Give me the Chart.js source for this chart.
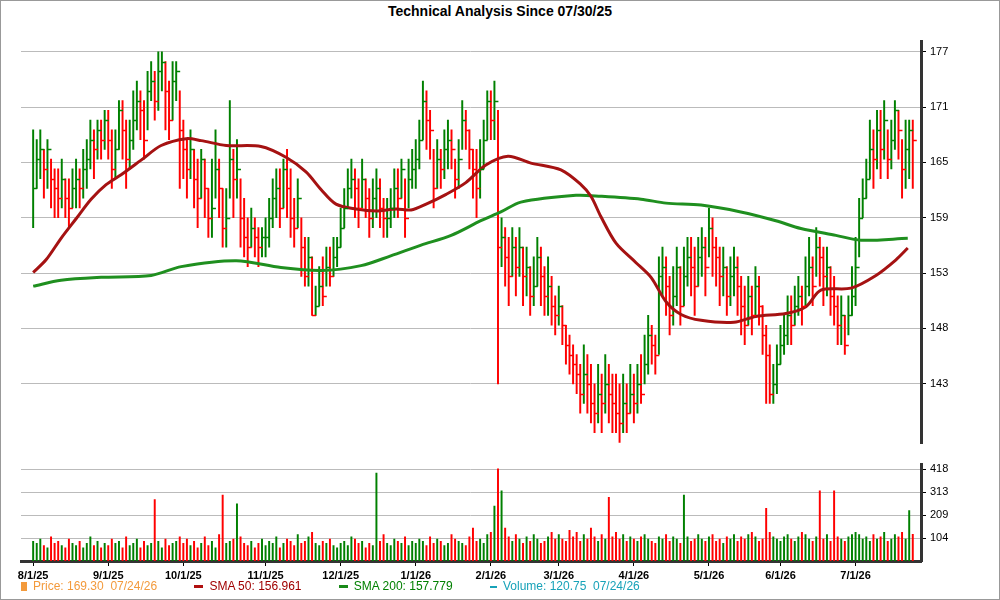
<!DOCTYPE html>
<html>
<head>
<meta charset="utf-8">
<script src="https://cdn.jsdelivr.net/npm/chart.js@4/dist/chart.umd.min.js"></script>
<style>
  body { margin: 0; background: #fff; font-family: Arial, "Liberation Sans", sans-serif; }
  #wrap { position: relative; width: 998px; height: 598px; border: 1px solid #999; overflow: hidden; }
  #titulo { position: absolute; top: 2px; left: 0; width: 100%; text-align: center; font-weight: bold; font-size: 14px; }
  #cHarga { position: absolute; left: 0; top: 0; }
  #cVol { position: absolute; left: 0; top: 453px; }
  #legenda { position: absolute; top: 578px; left: 20px; font-size: 12px; white-space: nowrap; }
  #legenda span { margin-right: 34px; }
  #legenda i { display: inline-block; width: 9px; height: 3px; margin-right: 6px; vertical-align: middle; }
</style>
</head>
<body>
<div id="wrap">
  <div id="titulo">Technical Analysis Since 07/30/25</div>
  <canvas id="cHarga"></canvas>
  <canvas id="cVol"></canvas>
  <div id="legenda">
    <span style="color:#f39a3c"><i style="background:#f39a3c;width:6px;height:9px"></i>Price: 169.30&nbsp; 07/24/26</span>
    <span style="color:#a00000"><i style="background:#b01010"></i>SMA 50: 156.961</span>
    <span style="color:#008000"><i style="background:#1a8a1a"></i>SMA 200: 157.779</span>
    <span style="color:#17a2b8"><i style="background:#17a2b8;width:7px;height:2px"></i>Volume: 120.75&nbsp; 07/24/26</span>
  </div>
</div>
<script>
// Data harian (Agu 2025 - Jul 2026)
const penutupan = [
  163,166,167,165,167,164,163,162,164,162,161,163,164,163,165,166,168,167,169,168,170,
  168,165,167,171,169,166,168,170,172,171,168,173,174,172,175,176,173,170,174,175,169,
  167,165,167,164,162,166,163,160,161,165,163,159,160,166,164,165,160,158,157,159,158,157,158,
  158,160,162,163,161,165,163,160,159,162,157,154,156,150,151,153,152,155,154,156,157,
  159,161,163,164,163,161,164,162,160,162,163,161,160,160,161,163,162,165,160,164,165,
  166,168,172,170,169,163,166,165,167,168,167,164,166,170,169,167,165,163,165,168,172,
  170,172,157,158,156,154,157,155,157,154,155,152,153,156,154,152,153,151,150,
  151,149,147,146,145,144,142,144,143,141,140,142,141,143,142,141,140,139,141,140,142,
  141,143,142,145,148,147,146,154,155,153,150,152,155,151,154,156,155,153,156,157,155,
  159,157,156,154,155,152,154,155,153,151,149,152,150,153,151,148,146,142,143,145,
  147,148,150,149,151,152,151,153,155,153,157,156,154,155,152,151,149,150,147,150,152,
  155,160,162,164,167,166,169,167,170,166,168,171,169,165,167,169,168
];
const tertinggi = [
  169,168,169,167,168,166,165,165,166,164,164,165,166,165,167,168,170,169,170,170,171,
  171,169,169,172,172,170,170,173,174,173,172,175,176,175,177,177,176,174,176,176,173,
  170,168,169,167,166,167,166,163,166,169,166,163,163,172,167,168,164,162,160,161,160,159,159,
  160,162,164,165,165,166,167,165,162,164,160,158,158,156,153,155,156,157,157,158,158,
  161,163,165,166,165,164,166,164,163,164,165,164,162,162,163,165,165,166,164,166,167,
  168,170,174,173,171,167,168,167,169,170,169,166,168,172,171,169,167,167,168,170,173,
  173,174,171,160,159,158,159,158,159,157,157,155,156,158,157,155,156,154,152,
  153,151,149,148,147,146,145,147,146,145,143,145,144,146,145,144,144,143,144,143,145,
  144,145,146,148,150,149,148,156,157,156,154,155,157,155,157,158,158,157,158,159,158,
  161,160,158,157,157,155,156,157,156,154,153,154,153,155,154,151,149,147,145,147,
  149,150,152,152,153,154,153,156,158,156,159,158,157,157,155,154,152,152,150,152,155,
  158,162,164,166,170,169,171,171,172,169,170,172,171,168,170,170,170
];
const terendah = [
  159,163,164,162,163,161,160,160,161,160,159,161,161,161,162,163,165,164,166,166,167,
  166,163,164,167,166,163,165,167,169,168,166,169,172,170,171,173,169,168,170,172,163,
  164,162,164,161,159,162,160,158,158,162,160,157,157,162,160,162,157,156,155,157,156,155,156,
  156,157,159,160,159,161,160,158,157,159,154,153,153,150,150,151,151,153,153,154,155,
  157,159,161,162,160,159,161,160,158,159,160,159,158,158,159,160,160,162,158,161,163,
  163,165,168,167,166,161,163,163,164,165,165,162,163,167,167,165,162,160,162,165,168,
  168,168,143,155,153,151,154,152,154,151,152,150,151,153,151,150,150,149,148,
  149,147,145,144,143,142,140,141,140,139,138,139,138,140,139,138,138,137,138,138,140,
  139,140,141,143,144,145,144,146,152,150,148,149,151,149,151,153,152,150,153,154,152,
  156,154,153,151,152,150,151,152,150,148,147,149,148,150,149,146,141,141,141,142,
  145,146,147,147,149,150,149,151,152,151,154,153,151,152,150,149,147,147,146,148,150,
  151,156,160,162,164,163,165,164,166,164,165,167,166,162,163,164,163
];
const volume = [
  90,80,100,70,60,110,80,90,70,60,100,80,70,90,60,80,110,70,90,60,80,
  70,100,80,90,60,110,70,80,100,60,90,70,80,280,90,60,100,70,80,90,110,
  80,100,70,90,60,80,110,70,90,60,120,300,80,90,100,260,110,80,70,90,60,80,100,
  70,90,80,110,60,80,100,90,70,120,80,90,110,130,80,70,90,80,100,70,60,
  80,90,70,110,100,80,90,60,80,70,400,90,120,80,70,100,90,80,110,70,90,
  80,100,90,70,110,80,100,90,70,80,120,100,90,80,70,110,150,90,100,80,120,
  130,250,420,320,150,110,90,120,100,80,110,90,120,100,80,90,110,130,100,
  120,100,90,140,110,130,90,120,100,150,110,90,120,100,290,110,130,100,120,90,110,
  100,90,110,120,100,90,80,110,100,120,90,110,100,80,300,110,90,100,120,100,90,
  110,120,90,100,80,110,100,120,90,110,100,120,130,110,90,100,240,130,110,100,
  90,110,120,100,90,110,130,120,100,90,110,320,100,120,90,320,110,100,90,110,120,
  130,120,100,110,90,120,100,110,130,90,100,120,110,130,100,230,121
];
const labelBulan = ["8/1/25","9/1/25","10/1/25","11/1/25","12/1/25","1/1/26","2/1/26","3/1/26","4/1/26","5/1/26","6/1/26","7/1/26"];
const posisiBulan = [0,21,42,65,86,107,128,147,168,189,209,230];
// SMA: indeks hari & nilai
const sma50Hari = [0,3.6,7.8,12,16.2,20.4,24.6,30.2,35.8,42.8,47,54,63.7,70.7,76.3,80.5,84.7,90.3,95.9,101.5,105.7,109.9,115.5,121,126.6,132.8,139.2,147.6,153.2,156,158.8,163,168.6,172.8,177,181.2,186.8,196,202.1,210.5,216.1,220.3,228.7,235.7,241.3,244.6];
const sma50Nilai = [154.4,155.7,157.9,159.9,161.9,163.4,164.4,165.9,167.4,168.1,167.9,167.4,167.3,166.2,164.7,162.9,161.4,160.9,160.7,160.9,160.8,161.4,162.4,163.6,165.4,166.3,165.6,164.9,163.4,162.2,160.1,157.4,155.4,153.9,151.4,150.1,149.5,149.3,149.9,150.2,150.9,152.6,152.8,154.1,155.7,156.9];
const sma200Hari = [0,7.8,19,33,41.4,56.8,69.3,80.5,91.7,100,108.5,116.9,125.2,130.8,136.4,151.8,158.8,170,177,186.8,197.9,207.7,214.7,224.5,231.5,244.6];
const sma200Nilai = [153.0,153.6,153.9,154.1,155.0,155.6,154.9,154.6,155.1,156.1,157.2,158.2,159.7,160.6,161.6,162.3,162.2,161.9,161.5,161.3,160.6,159.7,158.9,158.2,157.7,157.9];
const tickHarga = [143,148.67,154.33,160,165.67,171.33,177];
const labelHarga = ["143","148","153","159","165","171","177"];
const tickVol = [104.5,209,313.5,418];
const labelVol = ["104","209","313","418"];

const MERAH = "#ff0000", HIJAU = "#008000";
const warnaHari = penutupan.map((c, i) => (i > 0 && c < penutupan[i - 1]) ? MERAH : HIJAU);
const X_MIN = -3.4, X_MAX = 248.3;
const W = 1000;

function siapkan(id, h) {
  const c = document.getElementById(id);
  c.style.width = W + "px"; c.style.height = h + "px";
  return c;
}

const sumbuKanan = (ticks, labels, min, max) => ({
  position: "right", min, max,
  afterBuildTicks: (s) => { s.ticks = ticks.map((v) => ({ value: v })); },
  afterFit: (s) => { s.width = 80; },
  ticks: { callback: (v, i) => labels[i], color: "#000", font: { size: 11, family: "Arial" }, padding: 4, autoSkip: false },
  grid: { color: "#bbb", borderDash: [3, 3], tickColor: "#000", tickBorderDash: [], tickLength: 5 },
  border: { display: true, color: "#333", width: 3 },
});

// Tanda penutupan di sisi kanan batang
const tandaTutup = {
  id: "tandaTutup",
  afterDatasetsDraw(chart) {
    const { ctx, scales: { x, y } } = chart;
    ctx.save();
    ctx.lineWidth = 1.5;
    penutupan.forEach((c, i) => {
      const px = x.getPixelForValue(i), py = Math.round(y.getPixelForValue(c)) + 0.5;
      ctx.strokeStyle = warnaHari[i];
      ctx.beginPath(); ctx.moveTo(px, py); ctx.lineTo(px + 4, py); ctx.stroke();
    });
    ctx.restore();
  },
};

// Label bulan di bawah sumbu x
const labelSumbuX = {
  id: "labelSumbuX",
  afterDraw(chart) {
    const { ctx, scales: { x } } = chart;
    ctx.save();
    ctx.font = "bold 11px Arial";
    ctx.fillStyle = "#000";
    ctx.textAlign = "center";
    ctx.textBaseline = "top";
    posisiBulan.forEach((v, i) => ctx.fillText(labelBulan[i], x.getPixelForValue(v), x.top + 9));
    ctx.restore();
  },
};

new Chart(siapkan("cHarga", 453), {
  type: "bar",
  data: {
    datasets: [
      { type: "line", data: sma50Hari.map((d, i) => ({ x: d, y: sma50Nilai[i] })), borderColor: "#a51212", borderWidth: 3, pointRadius: 0, tension: 0.3, order: 0 },
      { type: "line", data: sma200Hari.map((d, i) => ({ x: d, y: sma200Nilai[i] })), borderColor: "#1f8f1f", borderWidth: 3, pointRadius: 0, tension: 0.3, order: 0 },
      { data: penutupan.map((_, i) => ({ x: i, y: [terendah[i], tertinggi[i]] })), backgroundColor: warnaHari, barThickness: 1.3, order: 1 },
    ],
  },
  options: {
    responsive: false, animation: false, devicePixelRatio: 1,
    layout: { padding: { left: 20, top: 40, right: 0, bottom: 1 } },
    plugins: { legend: { display: false }, tooltip: { enabled: false } },
    scales: {
      x: { type: "linear", min: X_MIN, max: X_MAX, offset: false, display: false },
      y: sumbuKanan(tickHarga, labelHarga, 136.9, 178.1),
    },
  },
  plugins: [tandaTutup],
});

new Chart(siapkan("cVol", 145), {
  type: "bar",
  data: {
    datasets: [{ data: volume.map((v, i) => ({ x: i, y: v })), backgroundColor: warnaHari, barThickness: 1.3 }],
  },
  options: {
    responsive: false, animation: false, devicePixelRatio: 1,
    layout: { padding: { left: 20, top: 2, right: 0, bottom: 16 } },
    plugins: { legend: { display: false }, tooltip: { enabled: false } },
    scales: {
      x: {
        type: "linear", min: X_MIN, max: X_MAX, offset: false,
        afterBuildTicks: (s) => { s.ticks = posisiBulan.map((v) => ({ value: v })); },
        afterFit: (s) => { s.height = 22; },
        ticks: { display: false },
        grid: { drawOnChartArea: false, offset: false, tickColor: "#000", tickLength: 5 },
        border: { display: true, color: "#333", width: 3 },
      },
      y: sumbuKanan(tickVol, labelVol, 0, 439),
    },
  },
  plugins: [labelSumbuX],
});
</script>
</body>
</html>
